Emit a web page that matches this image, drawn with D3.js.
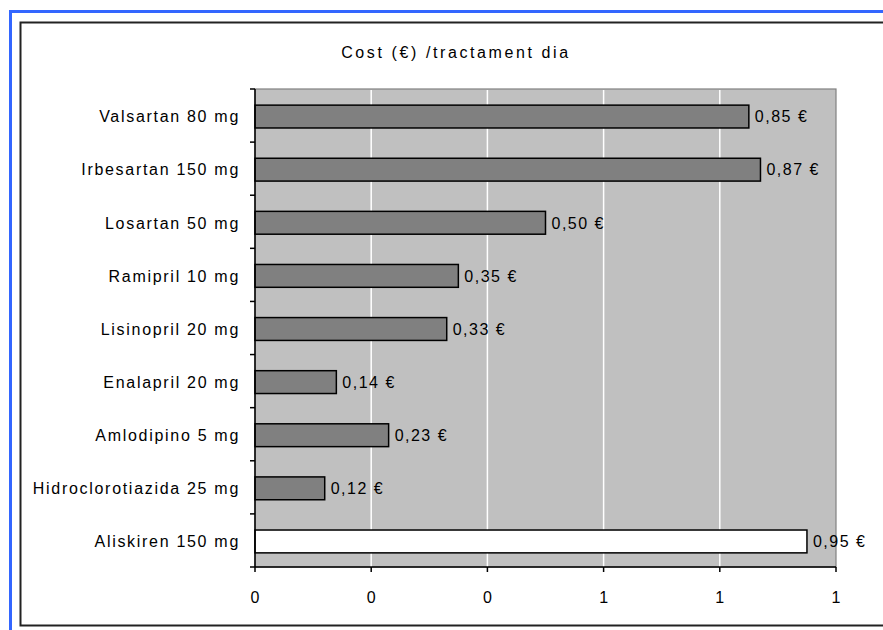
<!DOCTYPE html>
<html>
<head>
<meta charset="utf-8">
<script src="https://cdn.jsdelivr.net/npm/d3@7"></script>
<style>
  html, body { margin: 0; padding: 0; background: #fff; }
  svg { display: block; }
  text { font-family: "Liberation Sans", Arial, sans-serif; fill: #000; }
</style>
</head>
<body>
<svg id="chart" width="883" height="630"></svg>
<script>
const categories = [
  "Valsartan 80 mg", "Irbesartan 150 mg", "Losartan 50 mg", "Ramipril 10 mg",
  "Lisinopril 20 mg", "Enalapril 20 mg", "Amlodipino 5 mg",
  "Hidroclorotiazida 25 mg", "Aliskiren 150 mg"
];
const values = [0.85, 0.87, 0.50, 0.35, 0.33, 0.14, 0.23, 0.12, 0.95];
const valueLabels = ["0,85 €", "0,87 €", "0,50 €", "0,35 €", "0,33 €", "0,14 €", "0,23 €", "0,12 €", "0,95 €"];
const highlighted = ["Aliskiren 150 mg"];
const tickValues = [0, 0.2, 0.4, 0.6, 0.8, 1.0];
const tickLabels = ["0", "0", "0", "1", "1", "1"];
const title = "Cost (€) /tractament dia";

const svg = d3.select("#chart");
const plot = { left: 255, right: 836, top: 89, bottom: 567 };

// outer blue frame (only top and left visible)
svg.append("rect").attr("x", 10.5).attr("y", 11.5).attr("width", 900).attr("height", 700)
  .attr("fill", "none").attr("stroke", "#3366ff").attr("stroke-width", 3);
// chart area border
svg.append("rect").attr("x", 20.5).attr("y", 22.5).attr("width", 900).attr("height", 603)
  .attr("fill", "#fff").attr("stroke", "#222").attr("stroke-width", 2);

const x = d3.scaleLinear().domain([0, 1]).range([plot.left, plot.right]);
const y = d3.scaleBand().domain(categories).range([plot.top, plot.bottom])
  .paddingInner(0.57).paddingOuter(0.285);

// plot background
svg.append("rect").attr("x", plot.left).attr("y", plot.top)
  .attr("width", plot.right - plot.left).attr("height", plot.bottom - plot.top)
  .attr("fill", "#c0c0c0").attr("stroke", "#808080").attr("stroke-width", 1.2);

// gridlines
svg.append("g").selectAll("line").data(tickValues.slice(1, -1)).join("line")
  .attr("x1", d => x(d)).attr("x2", d => x(d))
  .attr("y1", plot.top + 1).attr("y2", plot.bottom)
  .attr("stroke", "#ffffff").attr("stroke-width", 1.5);

// bars
svg.append("g").selectAll("rect").data(categories).join("rect")
  .attr("x", x(0))
  .attr("y", d => y(d) + 1)
  .attr("width", (d, i) => x(values[i]) - x(0))
  .attr("height", y.bandwidth())
  .attr("fill", d => highlighted.includes(d) ? "#ffffff" : "#808080")
  .attr("stroke", "#000").attr("stroke-width", 1.5);

// value labels
svg.append("g").selectAll("text").data(categories).join("text")
  .attr("x", (d, i) => x(values[i]) + 6)
  .attr("y", d => y(d) + 1 + y.bandwidth() / 2)
  .attr("dy", "0.36em")
  .attr("font-size", "16px")
  .attr("letter-spacing", "1.5px")
  .text((d, i) => valueLabels[i]);

// left axis
const yAxis = svg.append("g");
yAxis.append("line").attr("x1", plot.left).attr("x2", plot.left)
  .attr("y1", plot.top).attr("y2", plot.bottom).attr("stroke", "#000").attr("stroke-width", 1.5);
const boundaries = d3.range(categories.length + 1).map(i => plot.top + i * (plot.bottom - plot.top) / categories.length);
yAxis.selectAll("line.tick").data(boundaries).join("line").attr("class", "tick")
  .attr("x1", plot.left - 5).attr("x2", plot.left)
  .attr("y1", d => d).attr("y2", d => d).attr("stroke", "#000").attr("stroke-width", 1.5);
yAxis.selectAll("text").data(categories).join("text")
  .attr("x", 240).attr("y", d => y(d) + 1 + y.bandwidth() / 2)
  .attr("dy", "0.36em").attr("text-anchor", "end")
  .attr("font-size", "16px").attr("letter-spacing", "1.7px")
  .text(d => d);

// bottom axis
const xAxis = svg.append("g");
xAxis.append("line").attr("x1", plot.left).attr("x2", plot.right)
  .attr("y1", plot.bottom).attr("y2", plot.bottom).attr("stroke", "#000").attr("stroke-width", 1.5);
xAxis.selectAll("line.tick").data(tickValues).join("line").attr("class", "tick")
  .attr("x1", d => x(d)).attr("x2", d => x(d))
  .attr("y1", plot.bottom).attr("y2", plot.bottom + 5).attr("stroke", "#000").attr("stroke-width", 1.5);
xAxis.selectAll("text").data(tickValues).join("text")
  .attr("x", d => x(d)).attr("y", 597).attr("dy", "0.36em")
  .attr("text-anchor", "middle").attr("font-size", "16px")
  .text((d, i) => tickLabels[i]);

// title
svg.append("text").attr("x", 456).attr("y", 58)
  .attr("text-anchor", "middle").attr("font-size", "16px").attr("letter-spacing", "2.6px")
  .text(title);
</script>
</body>
</html>
